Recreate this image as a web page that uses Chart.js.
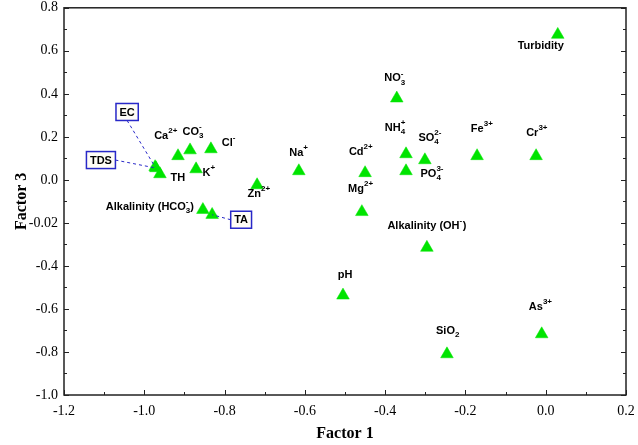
<!DOCTYPE html>
<html>
<head>
<meta charset="utf-8">
<script src="https://cdn.jsdelivr.net/npm/chart.js@4.4.1/dist/chart.umd.min.js"></script>
<style>
  html, body { margin: 0; padding: 0; background: #fff; }
  #wrap { width: 638px; height: 445px; position: relative; }
</style>
</head>
<body>
<div id="wrap"><canvas id="factor-chart"></canvas></div>
<script>
// variable names, factor loadings
const variables = ["Turbidity", "Ca", "CO3", "Cl", "EC", "TDS", "TH", "K", "Zn", "HCO3", "TA",
    "NO3", "NH4", "SO4", "PO4", "Na", "Cd", "Mg", "Fe", "Cr", "OH", "pH", "SiO2", "As"];
const factor1 = [0.030, -0.916, -0.886, -0.834, -0.973, -0.971, -0.961, -0.871, -0.719, -0.854, -0.831,
    -0.371, -0.348, -0.301, -0.348, -0.615, -0.450, -0.458, -0.171, -0.024, -0.296, -0.505, -0.246, -0.010];
const factor3 = [0.675, 0.111, 0.138, 0.143, 0.060, 0.055, 0.027, 0.050, -0.024, -0.139, -0.162,
    0.379, 0.120, 0.092, 0.041, 0.041, 0.032, -0.149, 0.111, 0.111, -0.315, -0.537, -0.810, -0.717];
// label text, ^{} = superscript, _{} = subscript ("" = none, boxed ones below)
const pointLabels = ["Turbidity", "Ca^{2+}", "CO_{3}^{-}", "Cl^{-}", "", "", "TH", "K^{+}", "Zn^{2+}",
    "Alkalinity (HCO_{3}^{-})", "", "NO_{3}^{-}", "NH_{4}^{+}", "SO_{4}^{2-}", "PO_{4}^{3-}", "Na^{+}",
    "Cd^{2+}", "Mg^{2+}", "Fe^{3+}", "Cr^{3+}", "Alkalinity (OH^{-})", "pH", "SiO_{2}", "As^{3+}"];
const boxedLabels = ["", "", "", "", "EC", "TDS", "", "", "", "", "TA",
    "", "", "", "", "", "", "", "", "", "", "", "", ""];
const xTickLabels = ["-1.2", "-1.0", "-0.8", "-0.6", "-0.4", "-0.2", "0.0", "0.2"];
const yTickLabels = ["-1.0", "-0.8", "-0.6", "-0.4", "-0.02", "0.0", "0.2", "0.4", "0.6", "0.8"];

// label placement (pixel offsets of the label centre from the point)
const labelOffsets = [[-17, 11], [-12, -20], [3, -18], [18, -6], [-28, -55], [-55, -8], [18, 4], [13, 4], [2, 9],
    [-53, -3], [29, 5], [-2, -20], [-11, -26], [5, -22], [26, 3], [0, -18], [-4, -21], [-1, -23], [5, -27],
    [1, -23], [0, -22], [2, -20], [1, -23], [-1, -27]];

const green = "#00e400";
const blue = "#2828c8";
const labelFont = '"Liberation Sans", Arial, sans-serif';
const serif = '"Liberation Serif", "Times New Roman", serif';

function parseLabel(s) {
    return s.split(/(\^\{[^}]*\}|_\{[^}]*\})/).filter(t => t !== "").map(t => {
        if (t.startsWith("^{")) return { type: "sup", text: t.slice(2, -1) };
        if (t.startsWith("_{")) return { type: "sub", text: t.slice(2, -1) };
        return { type: "normal", text: t };
    });
}

function layoutLabel(ctx, s) {
    const parts = parseLabel(s);
    let x = 0, subStart = null, subW = 0;
    const placed = [];
    parts.forEach((p) => {
        ctx.font = p.type === "normal" ? "bold 11px " + labelFont : "bold 8px " + labelFont;
        const w = ctx.measureText(p.text).width;
        if (p.type === "sup" && subStart !== null) {
            placed.push({ ...p, x: subStart });
            x = subStart + Math.max(subW, w);
            subStart = null;
            return;
        }
        placed.push({ ...p, x: x });
        if (p.type === "sub") { subStart = x; subW = w; } else { subStart = null; }
        x += w + (p.type === "normal" ? 0 : 0.5);
    });
    return { placed: placed, width: x };
}

function drawLabel(ctx, s, cx, cy) {
    const lay = layoutLabel(ctx, s);
    const left = cx - lay.width / 2;
    ctx.fillStyle = "#000";
    ctx.textBaseline = "middle";
    ctx.textAlign = "left";
    for (const p of lay.placed) {
        let dy = 0;
        if (p.type === "normal") ctx.font = "bold 11px " + labelFont;
        else ctx.font = "bold 8px " + labelFont;
        if (p.type === "sup") dy = -5;
        if (p.type === "sub") dy = 4;
        ctx.fillText(p.text, left + p.x, cy + dy);
    }
}

const labelPlugin = {
    id: "pointLabels",
    afterDatasetsDraw(chart) {
        const ctx = chart.ctx;
        const xs = chart.scales.x, ys = chart.scales.y;
        ctx.save();
        variables.forEach((v, i) => {
            const px = xs.getPixelForValue(factor1[i]);
            const py = ys.getPixelForValue(factor3[i]);
            const cx = px + labelOffsets[i][0];
            const cy = py + labelOffsets[i][1];
            if (pointLabels[i]) drawLabel(ctx, pointLabels[i], cx, cy);
            if (boxedLabels[i]) {
                ctx.font = "bold 11px " + labelFont;
                const w = ctx.measureText(boxedLabels[i]).width + 7;
                const h = 17;
                // dashed leader from box edge to point
                let ex = cx, ey = cy;
                if (Math.abs(px - cx) > Math.abs(py - cy) * 2) ex = cx + (px > cx ? w / 2 : -w / 2);
                else ey = cy + (py > cy ? h / 2 : -h / 2);
                ctx.strokeStyle = blue;
                ctx.lineWidth = 1;
                ctx.setLineDash([3, 3]);
                ctx.beginPath();
                ctx.moveTo(ex, ey);
                ctx.lineTo(px, py);
                ctx.stroke();
                ctx.setLineDash([]);
                ctx.fillStyle = "#fffdf6";
                ctx.fillRect(cx - w / 2, cy - h / 2, w, h);
                ctx.lineWidth = 1.5;
                ctx.strokeRect(cx - w / 2, cy - h / 2, w, h);
                ctx.fillStyle = "#000";
                ctx.textAlign = "center";
                ctx.textBaseline = "middle";
                ctx.fillText(boxedLabels[i], cx, cy + 0.5);
            }
        });
        ctx.restore();
    }
};

const framePlugin = {
    id: "frame",
    afterDraw(chart) {
        const ctx = chart.ctx;
        const a = chart.chartArea;
        const xs = chart.scales.x, ys = chart.scales.y;
        ctx.save();
        ctx.strokeStyle = "#222";
        ctx.lineWidth = 1.5;
        ctx.strokeRect(a.left, a.top, a.right - a.left, a.bottom - a.top);
        ctx.lineWidth = 1;
        ctx.beginPath();
        xs.ticks.forEach((t, i) => {
            const x = Math.round(xs.getPixelForValue(t.value)) + 0.5;
            ctx.moveTo(x, a.bottom);
            ctx.lineTo(x, a.bottom - (i % 2 === 0 ? 5 : 3));
        });
        ys.ticks.forEach((t, i) => {
            const y = Math.round(ys.getPixelForValue(t.value)) + 0.5;
            const len = i % 2 === 0 ? 5 : 3;
            ctx.moveTo(a.left, y);
            ctx.lineTo(a.left + len, y);
            ctx.moveTo(a.right, y);
            ctx.lineTo(a.right - len, y);
        });
        ctx.stroke();
        ctx.restore();
    }
};

const ctx = document.getElementById("factor-chart");

const chart = new Chart(ctx, {
    type: "scatter",
    data: {
        datasets: [{
            data: factor1.map((x, i) => ({ x: x, y: factor3[i] })),
            pointStyle: "triangle",
            pointRadius: 7.3,
            pointHoverRadius: 7.3,
            backgroundColor: green,
            borderColor: green,
            borderWidth: 0.5
        }]
    },
    options: {
        responsive: true,
        maintainAspectRatio: false,
        animation: false,
        layout: { padding: { top: 6, right: 12, left: 0, bottom: 0 } },
        scales: {
            x: {
                type: "linear",
                min: -1.2,
                max: 0.2,
                grid: { display: false, drawTicks: false },
                border: { display: false },
                ticks: {
                    stepSize: 0.1,
                    autoSkip: false,
                    maxRotation: 0,
                    padding: 8,
                    color: "#000",
                    font: { family: serif, size: 14 },
                    callback: (v, i) => i % 2 === 0 ? xTickLabels[i / 2] : ""
                },
                title: {
                    display: true,
                    text: "Factor 1",
                    color: "#000",
                    font: { family: serif, size: 16, weight: "bold" },
                    padding: { top: 2, bottom: 2 }
                },
                afterFit: (s) => {
                    s.height = 50;
                    s.paddingLeft = 0;
                    s.paddingRight = 0;
                }
            },
            y: {
                type: "linear",
                min: -1.0,
                max: 0.8,
                grid: { display: false, drawTicks: false },
                border: { display: false },
                ticks: {
                    stepSize: 0.1,
                    autoSkip: false,
                    padding: 6,
                    color: "#000",
                    font: { family: serif, size: 14 },
                    callback: (v, i) => i % 2 === 0 ? yTickLabels[i / 2] : ""
                },
                title: {
                    display: true,
                    text: "Factor 3",
                    color: "#000",
                    font: { family: serif, size: 16, weight: "bold" },
                    padding: { top: 12, bottom: 0 }
                },
                afterFit: (s) => {
                    s.width = 64;
                    s.paddingTop = 0;
                    s.paddingBottom = 0;
                }
            }
        },
        plugins: {
            legend: { display: false },
            tooltip: { enabled: false }
        }
    },
    plugins: [labelPlugin, framePlugin]
});
</script>
</body>
</html>
